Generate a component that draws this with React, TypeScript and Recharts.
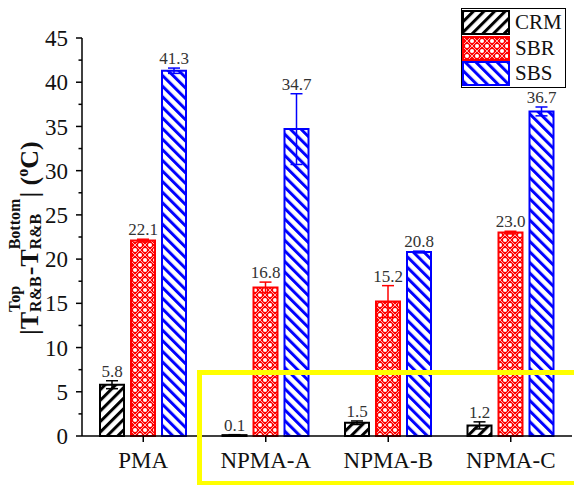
import React from 'react';
import { BarChart, Bar, XAxis, YAxis, ErrorBar, LabelList } from 'recharts';

const categories = ['PMA', 'NPMA-A', 'NPMA-B', 'NPMA-C'];
const crmValues = [5.8, 0.1, 1.5, 1.2];
const crmErrors = [0.45, 0.05, 0.2, 0.4];
const sbrValues = [22.1, 16.8, 15.2, 23.0];
const sbrErrors = [0.15, 0.6, 1.8, 0.15];
const sbsValues = [41.3, 34.7, 20.8, 36.7];
const sbsErrors = [0.3, 4.0, 0.1, 0.5];
const seriesNames = ['CRM', 'SBR', 'SBS'];
const yTicks = [0, 2.5, 5, 7.5, 10, 12.5, 15, 17.5, 20, 22.5, 25, 27.5, 30, 32.5, 35, 37.5, 40, 42.5, 45];

const data = categories.map((name, i) => ({
  name,
  crm: crmValues[i],
  crmErr: crmErrors[i],
  sbr: sbrValues[i],
  sbrErr: sbrErrors[i],
  sbs: sbsValues[i],
  sbsErr: sbsErrors[i],
}));

const FONT = '"Liberation Serif", "Times New Roman", serif';
const W = 574;
const H = 485;
const MARGIN = { top: 38, right: 2, left: 0, bottom: 0 };
const X_AXIS_H = 49;
const Y_AXIS_W = 82;
const PLOT_H = H - MARGIN.top - MARGIN.bottom - X_AXIS_H;
const Y_MAX = 45;
const PPU = PLOT_H / Y_MAX;

const COLORS = { crm: '#000000', sbr: '#ff0000', sbs: '#0000ff' };
const FILLS = { crm: 'url(#patCRM)', sbr: 'url(#patSBR)', sbs: 'url(#patSBS)' };
const KEYS = ['crm', 'sbr', 'sbs'];

const Patterns = () => (
  <svg width={0} height={0} style={{ position: 'absolute', left: 0, top: 0 }}>
    <defs>
      <pattern id="patCRM" patternUnits="userSpaceOnUse" width={7.5} height={7.5} patternTransform="rotate(45)">
        <rect width={7.5} height={7.5} fill="#fff" />
        <rect x={0} y={0} width={3} height={7.5} fill="#000" />
      </pattern>
      <pattern id="patSBS" patternUnits="userSpaceOnUse" width={7.5} height={7.5} patternTransform="rotate(-45)">
        <rect width={7.5} height={7.5} fill="#fff" />
        <rect x={0} y={0} width={3} height={7.5} fill="#0000ff" />
      </pattern>
      <pattern id="patSBR" patternUnits="userSpaceOnUse" width={10} height={10}>
        <rect width={10} height={10} fill="#ff0000" />
        <path d="M0,0 L10,10 M10,0 L0,10" stroke="#fff" strokeWidth={0.7} />
        <circle cx={5} cy={0} r={2} fill="#fff" />
        <circle cx={5} cy={10} r={2} fill="#fff" />
        <circle cx={0} cy={5} r={2} fill="#fff" />
        <circle cx={10} cy={5} r={2} fill="#fff" />
      </pattern>
    </defs>
  </svg>
);

const YTick = (props: any) => {
  const { x, y, payload } = props;
  const v = payload.value;
  const axisX = x + 14;
  const major = v % 5 === 0;
  return (
    <g>
      <line x1={axisX - (major ? 6 : 3.5)} x2={axisX} y1={y} y2={y} stroke="#000" strokeWidth={1.5} />
      {major && (
        <text x={x} y={y} dy="0.355em" textAnchor="end" fontSize={23} fontFamily={FONT} fill="#111">
          {v}
        </text>
      )}
    </g>
  );
};

const YLabel = () => {
  const F = 26;
  const S = 16;
  return (
    <g transform="translate(38,335) rotate(-90)" fontFamily={FONT} fontWeight="bold" fill="#111">
      <text x={0} y={0} fontSize={F}>|T</text>
      <text x={23.1} y={-18} fontSize={S}>Top</text>
      <text x={23.1} y={3} fontSize={S}>R&amp;B</text>
      <text x={59.7} y={0} fontSize={F}>-T</text>
      <text x={85.7} y={-18} fontSize={S}>Bottom</text>
      <text x={85.7} y={3} fontSize={S}>R&amp;B</text>
      <text x={137.4} y={0} fontSize={F} style={{ whiteSpace: 'pre' }}>| (</text>
      <text x={158.3} y={-10} fontSize={S}>o</text>
      <text x={166.3} y={0} fontSize={F}>C)</text>
    </g>
  );
};

const makeLabel = (errKey: string) => (props: any) => {
  const vb = props.viewBox || props;
  const x = props.x ?? vb.x;
  const y = props.y ?? vb.y;
  const width = props.width ?? vb.width;
  const idx = props.index;
  const err = (data[idx] as any)[errKey] || 0;
  const v = Number(props.value);
  return (
    <text
      x={x + width / 2}
      y={y - err * PPU - 4}
      textAnchor="middle"
      fontSize={17}
      fontFamily={FONT}
      fill="#333"
    >
      {v.toFixed(1)}
    </text>
  );
};

const Legend = () => (
  <div
    style={{
      position: 'absolute',
      left: 461,
      top: 8,
      width: 105,
      height: 80,
      border: '1.5px solid #000',
      background: '#fff',
      boxSizing: 'border-box',
      paddingTop: 1,
    }}
  >
    {KEYS.map((k, i) => (
      <div key={k} style={{ display: 'flex', alignItems: 'center', height: 25.5 }}>
        <svg width={48} height={25} style={{ display: 'block' }}>
          <rect x={1} y={1} width={46} height={23} fill={(FILLS as any)[k]} stroke={(COLORS as any)[k]} strokeWidth={2} />
        </svg>
        <span style={{ marginLeft: 5, fontSize: 21, fontFamily: FONT, color: '#111', lineHeight: '25px' }}>
          {seriesNames[i]}
        </span>
      </div>
    ))}
  </div>
);

export default function App() {
  return (
    <div
      style={{
        position: 'fixed',
        left: 0,
        top: 0,
        width: W,
        height: H,
        overflow: 'hidden',
        background: '#fff',
      }}
    >
      <Patterns />
      <BarChart width={W} height={H} data={data} margin={MARGIN} barGap={7}>
        <XAxis
          dataKey="name"
          height={X_AXIS_H}
          axisLine={{ stroke: '#000', strokeWidth: 1.5 }}
          tickLine={{ stroke: '#000', strokeWidth: 1.5 }}
          tickSize={6}
          tickMargin={10}
          tick={{ fontSize: 23, fontFamily: FONT, fill: '#111' }}
          interval={0}
        />
        <YAxis
          width={Y_AXIS_W}
          domain={[0, Y_MAX]}
          ticks={yTicks}
          interval={0}
          tickSize={6}
          tickMargin={8}
          tickLine={false}
          axisLine={{ stroke: '#000', strokeWidth: 1.5 }}
          tick={<YTick />}
          label={{ content: () => <YLabel /> }}
        />
        {KEYS.map((k) => (
          <Bar
            key={k}
            dataKey={k}
            fill={(FILLS as any)[k]}
            stroke={(COLORS as any)[k]}
            strokeWidth={2}
            barSize={24}
            isAnimationActive={false}
          >
            <ErrorBar dataKey={k + 'Err'} width={6} stroke={(COLORS as any)[k]} strokeWidth={1.5} direction="y" />
            <LabelList dataKey={k} content={makeLabel(k + 'Err')} />
          </Bar>
        ))}
      </BarChart>
      <Legend />
      <div
        style={{
          position: 'absolute',
          left: 197,
          top: 370,
          width: 420,
          height: 116,
          border: '5px solid #ffff00',
          boxSizing: 'border-box',
          pointerEvents: 'none',
        }}
      />
    </div>
  );
}
